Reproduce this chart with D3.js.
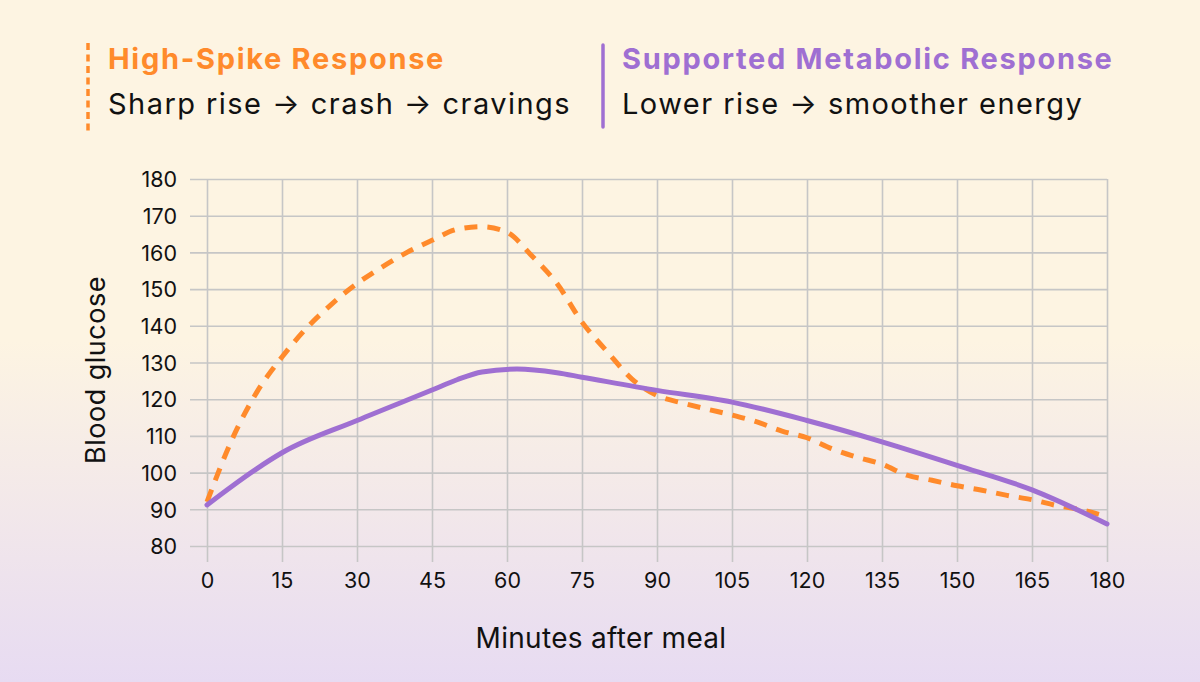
<!DOCTYPE html>
<html>
<head>
<meta charset="utf-8">
<script src="https://cdn.jsdelivr.net/npm/d3@7"></script>
<style>
  html, body { margin: 0; padding: 0; }
  body { width: 1200px; height: 682px; overflow: hidden; }
  svg { display: block; font-family: Inter, "Noto Sans", sans-serif; }
</style>
</head>
<body>
<svg id="chart"></svg>
<script>
// data (minutes after meal -> blood glucose)
const spikeMinutes = [0, 5, 10, 15, 20, 25, 30, 35, 40, 45, 50, 55, 60, 65, 70, 75, 80, 85, 90, 95, 100,
                      105, 110, 115, 120, 125, 130, 135, 140, 145, 150, 155, 160, 165, 170, 175, 180];
const spikeValues  = [92, 109, 122, 131.5, 139.5, 146, 151.5, 156, 160, 163.3, 166.3, 167, 165.5, 159, 151.5, 141, 133, 125.5, 121, 119, 117.3,
                      115.7, 113.8, 111.3, 109.5, 106.5, 104.2, 102.3, 99.3, 97.9, 96.4, 95.2, 93.8, 92.6, 91, 89.8, 88];

const supportMinutes = [0, 5, 10, 15, 30, 45, 50, 55, 62, 70, 75, 90, 105, 120, 135, 150, 165, 180];
const supportValues  = [91.2, 96.3, 101.1, 105.4, 114.2, 122.5, 125.3, 127.4, 128.2, 127.2, 126, 122.4, 119.2, 114.2, 108.4, 102, 95.3, 86];

const xTicks = [0, 15, 30, 45, 60, 75, 90, 105, 120, 135, 150, 165, 180];
const yTicks = [80, 90, 100, 110, 120, 130, 140, 150, 160, 170, 180];

const legendTitles = ['High-Spike Response', 'Supported Metabolic Response'];
const legendNotes = ['Sharp rise \u2192 crash \u2192 cravings', 'Lower rise \u2192 smoother energy'];

class glucoseVis {

    constructor(_config) {
        this.config = {
            parentElement: _config.parentElement,
            containerWidth: _config.containerWidth || 1200,
            containerHeight: _config.containerHeight || 682,
        }
        this.config.margin = _config.margin || { top: 179, bottom: 136, right: 93, left: 207 }

        this.width = this.config.containerWidth - this.config.margin.left - this.config.margin.right;
        this.height = this.config.containerHeight - this.config.margin.top - this.config.margin.bottom;

        this.svg = d3.select(this.config.parentElement)
            .attr('width', this.config.containerWidth)
            .attr('height', this.config.containerHeight);

        this.initVis();
    }

    initVis() {
        let vis = this;

        // background fades from cream into lavender near the bottom
        let grad = vis.svg.append('defs').append('linearGradient')
            .attr('id', 'bg')
            .attr('x1', 0).attr('y1', 0).attr('x2', 0).attr('y2', 1);
        grad.append('stop').attr('offset', '0').attr('stop-color', '#fdf4e2');
        grad.append('stop').attr('offset', '0.5').attr('stop-color', '#fdf4e2');
        grad.append('stop').attr('offset', '1').attr('stop-color', '#e7dbf2');

        vis.svg.append('rect')
            .attr('width', vis.config.containerWidth)
            .attr('height', vis.config.containerHeight)
            .attr('fill', 'url(#bg)');

        vis.chart = vis.svg.append('g')
            .attr('transform', `translate(${vis.config.margin.left},${vis.config.margin.top})`);

        vis.xScale = d3.scaleLinear()
            .domain([0, 180])
            .range([0, vis.width]);

        vis.yScale = d3.scaleLinear()
            .domain([80, 180])
            .range([vis.height, 0]);

        vis.render();
    }

    render() {
        let vis = this;
        const gridColor = '#c6c6c6';

        // horizontal grid, sticking out 17px on the left like ticks
        let yAxis = d3.axisLeft(vis.yScale)
            .tickValues(yTicks)
            .tickSize(-vis.width - 17)
            .tickPadding(13)
            .tickFormat(d3.format('d'));

        let yg = vis.chart.append('g')
            .attr('transform', 'translate(-17,0)')
            .call(yAxis);
        yg.select('.domain').remove();
        yg.selectAll('line').attr('stroke', gridColor).attr('stroke-width', 1.6);
        yg.selectAll('text')
            .attr('dy', '0.36em')
            .attr('fill', '#111')
            .style('font-size', '21.5px')
            .style('font-family', 'Inter, sans-serif');

        let xAxis = d3.axisBottom(vis.xScale)
            .tickValues(xTicks)
            .tickSize(-vis.height)
            .tickFormat(d3.format('d'));

        let xg = vis.chart.append('g')
            .attr('transform', `translate(0,${vis.height})`)
            .call(xAxis);
        xg.select('.domain').remove();
        xg.selectAll('line')
            .attr('y2', -vis.height)
            .attr('y1', 16)
            .attr('stroke', gridColor)
            .attr('stroke-width', 1.6);
        xg.selectAll('text')
            .attr('y', 42)
            .attr('dy', 0)
            .attr('fill', '#111')
            .style('font-size', '21.5px')
            .style('font-family', 'Inter, sans-serif');

        // lines
        let line = d3.line()
            .x(d => vis.xScale(d[0]))
            .y(d => vis.yScale(d[1]))
            .curve(d3.curveMonotoneX);

        let supportData = supportMinutes.map((m, i) => [m, supportValues[i]]);
        let spikeData = spikeMinutes.map((m, i) => [m, spikeValues[i]]);

        vis.chart.append('path')
            .datum(spikeData)
            .attr('d', line)
            .attr('fill', 'none')
            .attr('stroke', '#ff8a2b')
            .attr('stroke-width', 5)
            .attr('stroke-dasharray', '13 10');

        vis.chart.append('path')
            .datum(supportData)
            .attr('d', line)
            .attr('fill', 'none')
            .attr('stroke', '#9f6fd2')
            .attr('stroke-width', 5)
            .attr('stroke-linecap', 'round')
            .attr('stroke-linejoin', 'round');

        // axis titles
        vis.svg.append('text')
            .attr('x', 601)
            .attr('y', 648)
            .attr('text-anchor', 'middle')
            .attr('fill', '#111')
            .style('font-size', '28px')
            .style('letter-spacing', '0.3px')
            .text('Minutes after meal');

        vis.svg.append('text')
            .attr('transform', `translate(105,370) rotate(-90)`)
            .attr('text-anchor', 'middle')
            .attr('fill', '#111')
            .style('font-size', '27px')
            .style('letter-spacing', '0.5px')
            .text('Blood glucose');

        // legend header
        let legendX = [88, 603];
        let colors = ['#ff8a2b', '#9f6fd2'];
        let legend = vis.svg.selectAll('.legend')
            .data(legendTitles)
            .join('g')
            .attr('class', 'legend')
            .attr('transform', (d, i) => `translate(${legendX[i]},0)`);

        legend.append('line')
            .attr('x1', 0).attr('x2', 0)
            .attr('y1', (d, i) => i === 0 ? 43 : 45)
            .attr('y2', (d, i) => i === 0 ? 132 : 127)
            .attr('stroke', (d, i) => colors[i])
            .attr('stroke-width', 3.5)
            .attr('stroke-dasharray', (d, i) => i === 0 ? '7 4.5' : null)
            .attr('stroke-linecap', (d, i) => i === 0 ? 'butt' : 'round');

        legend.append('text')
            .attr('x', (d, i) => i === 0 ? 20 : 19)
            .attr('y', 69)
            .attr('fill', (d, i) => colors[i])
            .style('font-size', '29px')
            .style('font-weight', 700)
            .style('letter-spacing', '1.7px')
            .text(d => d);

        legend.append('text')
            .attr('x', (d, i) => i === 0 ? 20 : 19)
            .attr('y', 114)
            .attr('fill', '#111')
            .style('font-size', '29px')
            .style('letter-spacing', '1.45px')
            .text((d, i) => legendNotes[i]);
    }
}

new glucoseVis({ parentElement: '#chart' });
</script>
</body>
</html>
